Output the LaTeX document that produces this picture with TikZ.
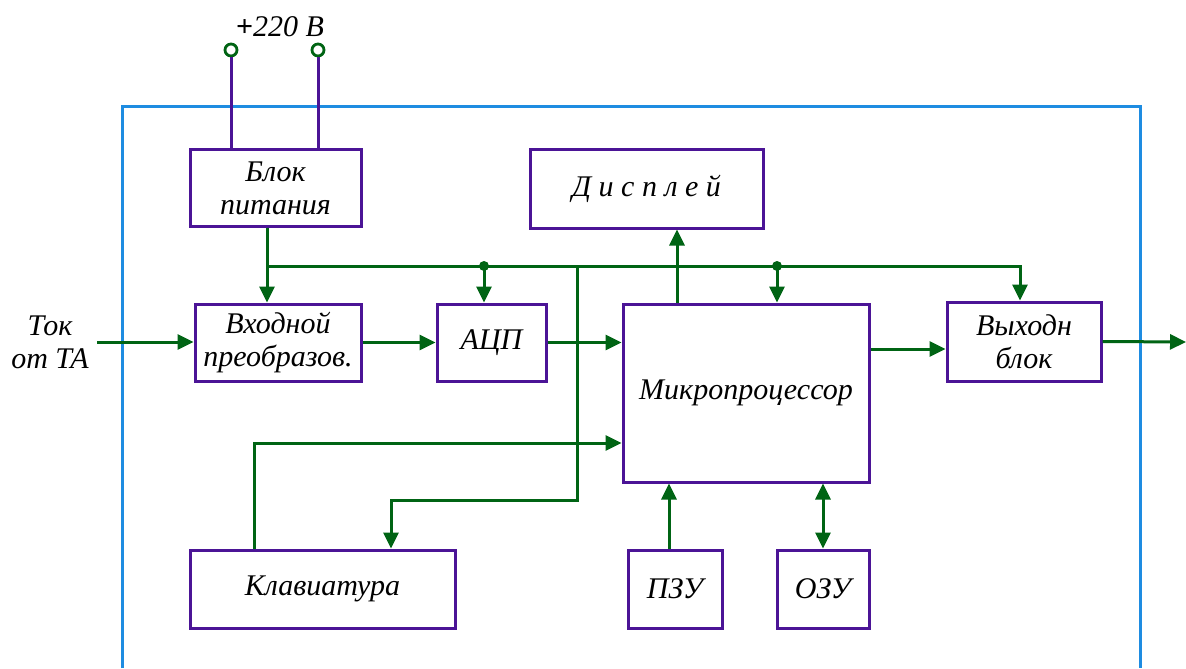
\documentclass[tikz,border=0pt]{standalone}
\usepackage{fontspec}
\setmainfont{Liberation Serif}
\usetikzlibrary{arrows.meta}
\definecolor{boxcol}{RGB}{75,20,150}
\definecolor{wirecol}{RGB}{0,100,20}
\definecolor{framecol}{RGB}{30,140,225}
\tikzset{
  blk/.style={draw=boxcol, line width=1.5pt, rectangle, align=center, inner sep=0pt},
  txt/.style={align=center, font=\fontsize{15}{16.5}\selectfont\itshape},
  wire/.style={draw=wirecol, line width=1.5pt},
  sig/.style={wire, -{Triangle[length=8pt,width=7.5pt]}},
  bisig/.style={wire, {Triangle[length=8pt,width=7.5pt]}-{Triangle[length=8pt,width=7.5pt]}},
  jdot/.style={circle, fill=wirecol, inner sep=0pt, minimum size=5pt},
  term/.style={circle, draw=wirecol, fill=white, line width=1.4pt, inner sep=0pt, minimum size=6pt},
}
\begin{document}
\begin{tikzpicture}[x=0.5pt, y=-0.5pt, every node/.append style={txt}]
    \useasboundingbox (0,0) rectangle (1186,668);
    % Frame
    \draw[framecol, line width=1.5pt] (122,668) -- (122,107) -- (1140,107) -- (1140,668);

    % Nodes
    \node (pit) [blk, minimum width=85.5pt, minimum height=38pt] at (275.5,188) {Блок\\питания};
    \node (disp) [blk, minimum width=116.5pt, minimum height=39pt] at (646.5,189) {Д и с п л е й};
    \node (vhod) [blk, minimum width=83pt, minimum height=38.5pt] at (278,342.5) {Входной\\преобразов.};
    \node (adc) [blk, minimum width=54.5pt, minimum height=38.5pt] at (491.5,342.5) {АЦП};
    \node (mp) [blk, minimum width=123pt, minimum height=89pt] at (746,393) {Микропроцессор};
    \node (vyh) [blk, minimum width=77pt, minimum height=39.5pt] at (1024,341.5) {Выходн\\блок};
    \node (klav) [blk, minimum width=132.5pt, minimum height=39pt] at (322.5,589) {Клавиатура};
    \node (pzu) [blk, minimum width=47pt, minimum height=39pt] at (675,589) {ПЗУ};
    \node (ozu) [blk, minimum width=46pt, minimum height=39pt] at (823,589) {ОЗУ};
    \node (tok) at (50,342) {Ток\\от ТА};
    \node (volt) at (280,27) {{\upshape\bfseries +}220 В};
    \node (t1) [term] at (231,50) {};
    \node (t2) [term] at (318,50) {};

    % Points
    \coordinate (in) at (97,342);
    \coordinate (out) at (1186,342);
    \coordinate (b0) at (267,266);
    \coordinate (b1) at (1020,266);
    \coordinate (j1) at (484,266);
    \coordinate (j2) at (777,266);
    \coordinate (j3) at (577,266);
    \coordinate (k1) at (577,500);
    \coordinate (k2) at (391,500);
    \coordinate (k3) at (254,443);
    \coordinate (d0) at (677,266);
    \coordinate (m1) at (869,349);
    \coordinate (p1) at (669,600);

    % Edges
    \draw[boxcol, line width=1.5pt] (t1) -- (t1 |- pit.north);
    \draw[boxcol, line width=1.5pt] (t2) -- (t2 |- pit.north);
    \draw[sig] (b0 |- pit.south) -- (b0 |- vhod.north);
    \draw[sig] (b0) -- (b1) -- (b1 |- vyh.north);
    \draw[sig] (j1) -- (j1 |- adc.north);
    \draw[sig] (j2) -- (j2 |- mp.north);
    \draw[sig] (j3) -- (k1) -- (k2) -- (k2 |- klav.north);
    \draw[sig] (d0 |- mp.north) -- (d0 |- disp.south);
    \node[jdot] at (j1) {};
    \node[jdot] at (j2) {};
    \draw[sig] (in) -- (in -| vhod.west);
    \draw[sig] (vhod.east) -- (adc.west);
    \draw[sig] (adc.east) -- (adc.east -| mp.west);
    \draw[sig] (m1 -| mp.east) -- (m1 -| vyh.west);
    \draw[sig] (vyh.east) -- (out);
    \draw[sig] (k3 |- klav.north) -- (k3) -- (k3 -| mp.west);
    \draw[sig] (p1 |- pzu.north) -- (p1 |- mp.south);
    \draw[bisig] (ozu.north) -- (ozu.north |- mp.south);
\end{tikzpicture}
\end{document}
